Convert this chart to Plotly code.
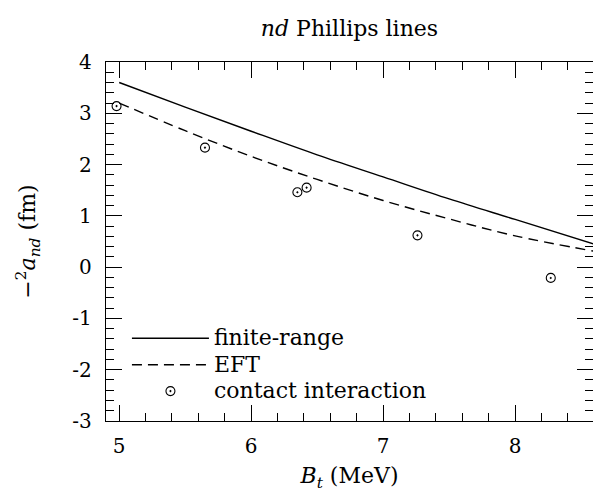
import plotly.graph_objects as go

# Triton binding energy grid (MeV) for the two model curves
bt_grid = [5.0, 5.5, 6.0, 6.5, 7.0, 7.5, 8.0, 8.6]
# nd doublet scattering length -2a_nd (fm)
finite_range = [3.60, 3.12, 2.65, 2.19, 1.76, 1.33, 0.93, 0.45]
eft = [3.20, 2.66, 2.16, 1.71, 1.30, 0.94, 0.61, 0.31]

# contact-interaction results
contact_bt = [4.98, 5.65, 6.35, 6.42, 7.26, 8.27]
contact_a = [3.14, 2.33, 1.46, 1.55, 0.62, -0.21]

x_ticks = [5, 6, 7, 8]
x_labels = ["5", "6", "7", "8"]
y_ticks = [-3, -2, -1, 0, 1, 2, 3, 4]
y_labels = ["-3", "-2", "-1", "0", "1", "2", "3", "4"]

FONT = "DejaVu Serif"
TEXT_SIZE = 22
TICK_SIZE = 20


def legend_label(text):
    return '<span style="font-size:%dpx">%s</span>' % (TEXT_SIZE, text)


fig = go.Figure()
fig.add_trace(go.Scatter(
    x=bt_grid, y=finite_range, mode="lines", name=legend_label("finite-range"),
    line=dict(color="black", width=1.4, shape="spline"),
))
fig.add_trace(go.Scatter(
    x=bt_grid, y=eft, mode="lines", name=legend_label("EFT"),
    line=dict(color="black", width=1.4, dash="10px,6px", shape="spline"),
))
fig.add_trace(go.Scatter(
    x=contact_bt, y=contact_a, mode="markers",
    name=legend_label("contact interaction"),
    marker=dict(symbol="circle-open-dot", size=9, color="black",
                line=dict(color="black", width=1.1)),
))

axis_common = dict(
    showgrid=False, zeroline=False, showline=True, linecolor="black",
    linewidth=1.4, mirror="allticks", ticks="inside", ticklen=16,
    tickwidth=1.4, tickcolor="black",
    tickfont=dict(family=FONT, size=TICK_SIZE, color="black"),
)

fig.update_xaxes(
    **axis_common, range=[4.9, 8.59], tickmode="array",
    tickvals=x_ticks, ticktext=x_labels, ticklabelstandoff=7,
    minor=dict(dtick=0.2, tick0=5, ticklen=8, tickwidth=1.2,
               tickcolor="black", ticks="inside"),
    title=dict(text="<i>B</i><sub><i>t</i></sub> (MeV)",
               font=dict(family=FONT, size=TEXT_SIZE, color="black"),
               standoff=10),
)
fig.update_yaxes(
    **axis_common, range=[-3, 4], tickmode="array",
    tickvals=y_ticks, ticktext=y_labels, ticklabelstandoff=9,
    minor=dict(dtick=0.2, tick0=0, ticklen=8, tickwidth=1.2,
               tickcolor="black", ticks="inside"),
    title=dict(text="\u2212<sup>2</sup><i>a</i><sub><i>nd</i></sub> (fm)",
               font=dict(family=FONT, size=TEXT_SIZE, color="black"),
               standoff=30),
)

fig.update_layout(
    width=593, height=502,
    margin=dict(l=106, r=0, t=62, b=81),
    paper_bgcolor="white", plot_bgcolor="white",
    font=dict(family=FONT, size=TEXT_SIZE, color="black"),
    title=dict(text="<i>nd</i> Phillips lines", x=(106 + 593) / 2 / 593,
               xanchor="center", y=1 - 28 / 502, yanchor="middle",
               font=dict(family=FONT, size=TEXT_SIZE, color="black")),
    showlegend=True,
    legend=dict(x=0.043, y=0.281, xanchor="left", yanchor="top",
                bgcolor="rgba(0,0,0,0)", itemwidth=77, tracegroupgap=0,
                font=dict(family=FONT, size=18, color="black")),
)

fig.write_html("out.html")
